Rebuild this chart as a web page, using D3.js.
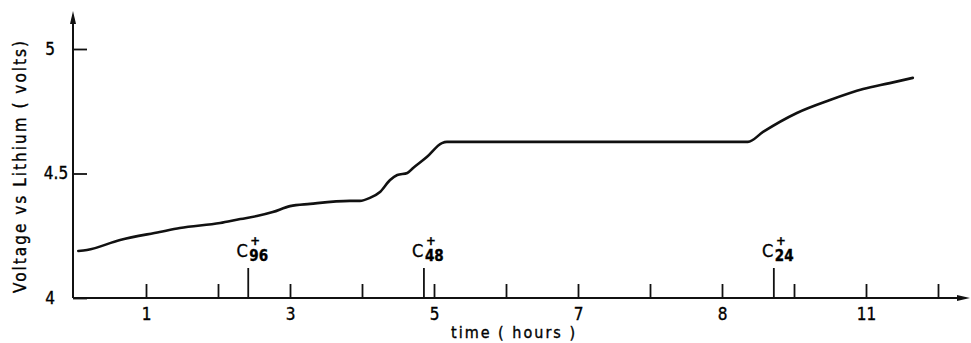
<!DOCTYPE html>
<html>
<head>
<meta charset="utf-8">
<script src="https://cdn.jsdelivr.net/npm/d3@7"></script>
<style>
  body { margin: 0; background: #fff; }
  svg { display: block; }
  text { font-family: "Liberation Sans Narrow", "DejaVu Sans Condensed", "Arial Narrow", sans-serif; fill: #000; stroke: #000; stroke-width: 0.35px; }
</style>
</head>
<body>
<svg id="chart" width="971" height="343"></svg>
<script>
/* global d3 */

// voltage curve (hours, volts)
var hours = [0.06, 0.18, 0.64, 1.19, 1.47, 2.03, 2.31, 2.54, 2.76, 3.00, 3.28, 3.83, 3.97, 4.11, 4.25,
  4.39, 4.49, 4.63, 4.71, 4.90, 5.11, 5.18, 9.36, 9.57, 10.04, 10.50, 10.96, 11.33, 11.65];
var volts = [4.189, 4.193, 4.233, 4.265, 4.281, 4.301, 4.317, 4.329, 4.345, 4.369, 4.378, 4.390, 4.390, 4.402, 4.426,
  4.474, 4.494, 4.502, 4.522, 4.566, 4.622, 4.627, 4.627, 4.667, 4.743, 4.795, 4.839, 4.863, 4.884];

// staging markers
var stageHours = [2.42, 4.86, 9.72];
var stageSubs = ['96', '48', '24'];

// axis ticks
var xTickHours = [1, 2, 3, 4, 5, 6, 7, 8, 9, 10, 11, 12];
var xLabelHours = [1, 3, 5, 7, 9, 11];
var xLabels = ['1', '3', '5', '7', '8', '11'];
var yTicks = [4, 4.5, 5];
var yLabels = ['4', '4.5', '5'];

var svg = d3.select('#chart');

var x = d3.scaleLinear().domain([0, 12]).range([74, 938]);
var y = d3.scaleLinear().domain([4, 5]).range([298, 49]);

// x axis, ticks pointing up into the plot
var xAxis = svg.append('g')
  .attr('transform', `translate(0,${y(4)})`)
  .call(d3.axisBottom(x)
    .tickValues(xTickHours)
    .tickSizeInner(-14).tickSizeOuter(0).tickPadding(10)
    .tickFormat(d => {
      var i = xLabelHours.indexOf(d);
      return i < 0 ? '' : xLabels[i];
    }));
xAxis.select('.domain').remove();
xAxis.selectAll('.tick line').attr('stroke', '#111').attr('stroke-width', 1.8);
xAxis.selectAll('.tick text').style('font-size', '17px');

// y axis
var yAxis = svg.append('g')
  .attr('transform', `translate(${x(0) - 1},0)`)
  .call(d3.axisLeft(y)
    .tickValues(yTicks)
    .tickSizeInner(-14).tickSizeOuter(0)
    .tickFormat((d, i) => yLabels[i]));
yAxis.select('.domain').remove();
yAxis.selectAll('.tick line').attr('stroke', '#111').attr('stroke-width', 1.8);
yAxis.selectAll('.tick text')
  .style('font-size', '17px')
  .attr('text-anchor', 'middle')
  .attr('x', d => d === 4.5 ? -17 : -23);

// axis lines with arrow heads
var x0 = x(0) - 1, yb = y(4);
var xEnd = x.range()[1] + 20;
svg.append('path')
  .attr('d', `M${x0},${yb}H${xEnd}M${x0},${yb}V22`)
  .attr('fill', 'none').attr('stroke', '#111').attr('stroke-width', 2);
svg.append('path')
  .attr('d', `M${xEnd + 12},${yb}L${xEnd - 1},${yb - 3}L${xEnd - 1},${yb + 3}Z`)
  .attr('fill', '#111');
svg.append('path')
  .attr('d', `M${x0},11L${x0 - 3},24L${x0 + 3},24Z`)
  .attr('fill', '#111');

// the curve
var points = hours.map((h, i) => [h, volts[i]]);
svg.append('path')
  .datum(points)
  .attr('fill', 'none')
  .attr('stroke', '#111')
  .attr('stroke-width', 2.6)
  .attr('stroke-linejoin', 'round')
  .attr('stroke-linecap', 'round')
  .attr('d', d3.line().x(d => x(d[0])).y(d => y(d[1])).curve(d3.curveMonotoneX));

// staging markers C+n, one text each (C, subscript, superscript +)
var stages = svg.selectAll('g.stage')
  .data(stageHours).enter()
  .append('g').attr('class', 'stage')
  .attr('transform', d => `translate(${x(d)},0)`);
stages.append('line')
  .attr('y1', yb - 30).attr('y2', yb)
  .attr('stroke', '#111').attr('stroke-width', 1.8);
var label = stages.append('text');
label.append('tspan')
  .attr('x', -0.5).attr('y', 257)
  .attr('text-anchor', 'end')
  .style('font-size', '18px')
  .text('C');
label.append('tspan')
  .attr('x', 1).attr('y', 261)
  .attr('text-anchor', 'start')
  .style('font-size', '15px')
  .style('font-weight', 'bold')
  .text((d, i) => stageSubs[i]);
label.append('tspan')
  .attr('x', 7).attr('y', 245)
  .attr('text-anchor', 'middle')
  .style('font-size', '13px')
  .style('font-weight', 'bold')
  .text('+');

// axis titles
svg.append('text')
  .attr('x', 513).attr('y', 338)
  .attr('text-anchor', 'middle')
  .attr('textLength', 124).attr('lengthAdjust', 'spacing')
  .style('font-size', '16px')
  .text('time ( hours )');

svg.append('text')
  .attr('transform', 'translate(26,167) rotate(-90)')
  .attr('text-anchor', 'middle')
  .attr('textLength', 252).attr('lengthAdjust', 'spacing')
  .style('font-size', '17px')
  .text('Voltage vs Lithium  ( volts)');
</script>
</body>
</html>
